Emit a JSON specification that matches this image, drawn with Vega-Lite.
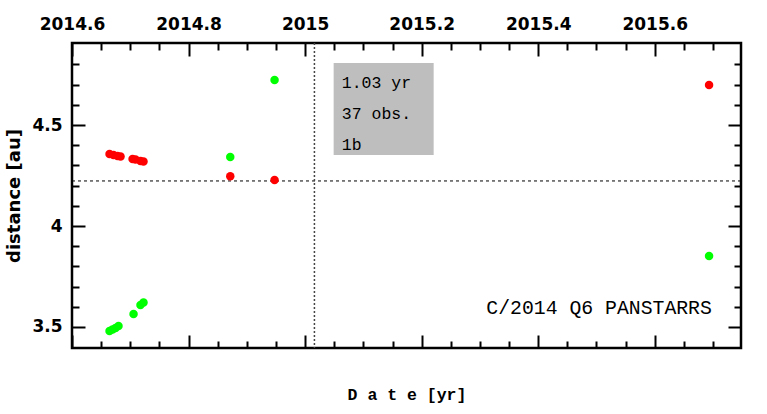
{
  "$schema": "https://vega.github.io/schema/vega-lite/v6.json",
  "width": 669,
  "height": 305,
  "autosize": {"type": "none"},
  "padding": {"left": 72, "top": 43, "right": 26, "bottom": 66},
  "background": "white",
  "config": {
    "view": {"stroke": "black", "strokeWidth": 2.5},
    "axis": {"grid": false, "domain": false, "tickColor": "black", "tickWidth": 2, "labelColor": "black", "titleColor": "black"}
  },
  "datasets": {
    "pts": [
      {"date": 2014.6644, "dist": 4.356, "kind": "sun"},
      {"date": 2014.6712, "dist": 4.351, "kind": "sun"},
      {"date": 2014.6781, "dist": 4.347, "kind": "sun"},
      {"date": 2014.6833, "dist": 4.344, "kind": "sun"},
      {"date": 2014.7039, "dist": 4.332, "kind": "sun"},
      {"date": 2014.709, "dist": 4.329, "kind": "sun"},
      {"date": 2014.7175, "dist": 4.322, "kind": "sun"},
      {"date": 2014.7227, "dist": 4.319, "kind": "sun"},
      {"date": 2014.8716, "dist": 4.246, "kind": "sun"},
      {"date": 2014.9476, "dist": 4.228, "kind": "sun"},
      {"date": 2015.6932, "dist": 4.698, "kind": "sun"},
      {"date": 2014.6644, "dist": 3.48, "kind": "earth"},
      {"date": 2014.6695, "dist": 3.488, "kind": "earth"},
      {"date": 2014.6747, "dist": 3.495, "kind": "earth"},
      {"date": 2014.6798, "dist": 3.505, "kind": "earth"},
      {"date": 2014.7056, "dist": 3.564, "kind": "earth"},
      {"date": 2014.7175, "dist": 3.609, "kind": "earth"},
      {"date": 2014.7227, "dist": 3.621, "kind": "earth"},
      {"date": 2014.8716, "dist": 4.342, "kind": "earth"},
      {"date": 2014.9476, "dist": 4.723, "kind": "earth"},
      {"date": 2015.6932, "dist": 3.851, "kind": "earth"}
    ]
  },
  "resolve": {"axis": {"x": "independent", "y": "independent"}},
  "layer": [
    {
      "data": {"values": [{"x1": 2015.049, "x2": 2015.2206, "y1": 4.807, "y2": 4.351}]},
      "mark": {"type": "rect", "color": "#bebebe"},
      "encoding": {
        "x": {"field": "x1", "type": "quantitative", "scale": {"domain": [2014.6, 2015.748], "nice": false, "zero": false}, "axis": null},
        "x2": {"field": "x2"},
        "y": {"field": "y1", "type": "quantitative", "scale": {"domain": [3.396, 4.906], "nice": false, "zero": false}, "axis": null},
        "y2": {"field": "y2"}
      }
    },
    {
      "data": {"values": [{"y": 4.223}]},
      "mark": {"type": "rule", "color": "black", "strokeWidth": 1, "strokeDash": [3, 3]},
      "encoding": {
        "y": {"field": "y", "type": "quantitative", "scale": {"domain": [3.396, 4.906], "nice": false, "zero": false}, "axis": null}
      }
    },
    {
      "data": {"values": [{"x": 2015.016}]},
      "mark": {"type": "rule", "color": "#444444", "strokeWidth": 1.5, "strokeDash": [2, 2]},
      "encoding": {
        "x": {"field": "x", "type": "quantitative", "scale": {"domain": [2014.6, 2015.748], "nice": false, "zero": false}, "axis": null}
      }
    },
    {
      "data": {"name": "pts"},
      "mark": {"type": "point", "filled": true, "opacity": 1, "size": 72},
      "encoding": {
        "x": {"field": "date", "type": "quantitative", "scale": {"domain": [2014.6, 2015.748], "nice": false, "zero": false}, "axis": null},
        "y": {"field": "dist", "type": "quantitative", "scale": {"domain": [3.396, 4.906], "nice": false, "zero": false}, "axis": null},
        "color": {"field": "kind", "type": "nominal", "scale": {"domain": ["sun", "earth"], "range": ["#ff0000", "#00ff00"]}, "legend": null}
      }
    },
    {
      "data": {"values": [
        {"t": 2015.063, "d": 4.683, "label": "1.03 yr"},
        {"t": 2015.063, "d": 4.532, "label": "37 obs."},
        {"t": 2015.063, "d": 4.376, "label": "1b"}
      ]},
      "mark": {"type": "text", "align": "left", "baseline": "alphabetic", "font": "Liberation Mono", "fontSize": 16.5, "color": "black"},
      "encoding": {
        "x": {"field": "t", "type": "quantitative", "scale": {"domain": [2014.6, 2015.748], "nice": false, "zero": false}, "axis": null},
        "y": {"field": "d", "type": "quantitative", "scale": {"domain": [3.396, 4.906], "nice": false, "zero": false}, "axis": null},
        "text": {"field": "label"}
      }
    },
    {
      "data": {"values": [{"t": 2015.698, "d": 3.564, "label": "C/2014 Q6 PANSTARRS"}]},
      "mark": {"type": "text", "align": "right", "baseline": "alphabetic", "font": "Liberation Mono", "fontSize": 19.8, "color": "black"},
      "encoding": {
        "x": {"field": "t", "type": "quantitative", "scale": {"domain": [2014.6, 2015.748], "nice": false, "zero": false}, "axis": null},
        "y": {"field": "d", "type": "quantitative", "scale": {"domain": [3.396, 4.906], "nice": false, "zero": false}, "axis": null},
        "text": {"field": "label"}
      }
    },
    {
      "data": {"name": "pts"},
      "mark": {"type": "point", "opacity": 0},
      "encoding": {
        "x": {"field": "date", "type": "quantitative", "scale": {"domain": [2014.6, 2015.748], "nice": false, "zero": false},
          "axis": {"orient": "top", "values": [2014.6, 2014.8, 2015, 2015.2, 2015.4, 2015.6], "format": "~g", "tickSize": -13, "labelPadding": 23,
            "labelFont": "DejaVu Sans", "labelFontWeight": "bold", "labelFontSize": 17, "labelFlush": false, "title": null}},
        "y": {"field": "dist", "type": "quantitative", "scale": {"domain": [3.396, 4.906], "nice": false, "zero": false},
          "axis": {"orient": "left", "values": [3.5, 4, 4.5], "format": "~g", "tickSize": -13, "labelPadding": 23,
            "labelFont": "DejaVu Sans", "labelFontWeight": "bold", "labelFontSize": 17, "labelFlush": false,
            "title": "distance [au]", "titleFont": "DejaVu Sans", "titleFontWeight": "bold", "titleFontSize": 18, "titlePadding": 8}}
      }
    },
    {
      "data": {"name": "pts"},
      "mark": {"type": "point", "opacity": 0},
      "encoding": {
        "x": {"field": "date", "type": "quantitative", "scale": {"domain": [2014.6, 2015.748], "nice": false, "zero": false},
          "axis": {"orient": "top", "values": [2014.65, 2014.7, 2014.75, 2014.85, 2014.9, 2014.95, 2015.05, 2015.1, 2015.15, 2015.25, 2015.3, 2015.35, 2015.45, 2015.5, 2015.55, 2015.65, 2015.7], "tickSize": -7, "labels": false, "title": null}},
        "y": {"field": "dist", "type": "quantitative", "scale": {"domain": [3.396, 4.906], "nice": false, "zero": false},
          "axis": {"orient": "left", "values": [3.6, 3.7, 3.8, 3.9, 4.1, 4.2, 4.3, 4.4, 4.6, 4.7, 4.8], "tickSize": -7, "labels": false, "title": null}}
      }
    },
    {
      "data": {"name": "pts"},
      "mark": {"type": "point", "opacity": 0},
      "encoding": {
        "x": {"field": "date", "type": "quantitative", "scale": {"domain": [2014.6, 2015.748], "nice": false, "zero": false},
          "axis": {"orient": "bottom", "values": [2014.6, 2014.8, 2015, 2015.2, 2015.4, 2015.6], "tickSize": -13, "labels": false,
            "title": "D a t e [yr]", "titleFont": "Liberation Mono", "titleFontWeight": "bold", "titleFontSize": 16.5, "titlePadding": 37}},
        "y": {"field": "dist", "type": "quantitative", "scale": {"domain": [3.396, 4.906], "nice": false, "zero": false},
          "axis": {"orient": "right", "values": [3.5, 4, 4.5], "tickSize": -13, "labels": false, "title": null}}
      }
    },
    {
      "data": {"name": "pts"},
      "mark": {"type": "point", "opacity": 0},
      "encoding": {
        "x": {"field": "date", "type": "quantitative", "scale": {"domain": [2014.6, 2015.748], "nice": false, "zero": false},
          "axis": {"orient": "bottom", "values": [2014.65, 2014.7, 2014.75, 2014.85, 2014.9, 2014.95, 2015.05, 2015.1, 2015.15, 2015.25, 2015.3, 2015.35, 2015.45, 2015.5, 2015.55, 2015.65, 2015.7], "tickSize": -7, "labels": false, "title": null}},
        "y": {"field": "dist", "type": "quantitative", "scale": {"domain": [3.396, 4.906], "nice": false, "zero": false},
          "axis": {"orient": "right", "values": [3.6, 3.7, 3.8, 3.9, 4.1, 4.2, 4.3, 4.4, 4.6, 4.7, 4.8], "tickSize": -7, "labels": false, "title": null}}
      }
    }
  ]
}
